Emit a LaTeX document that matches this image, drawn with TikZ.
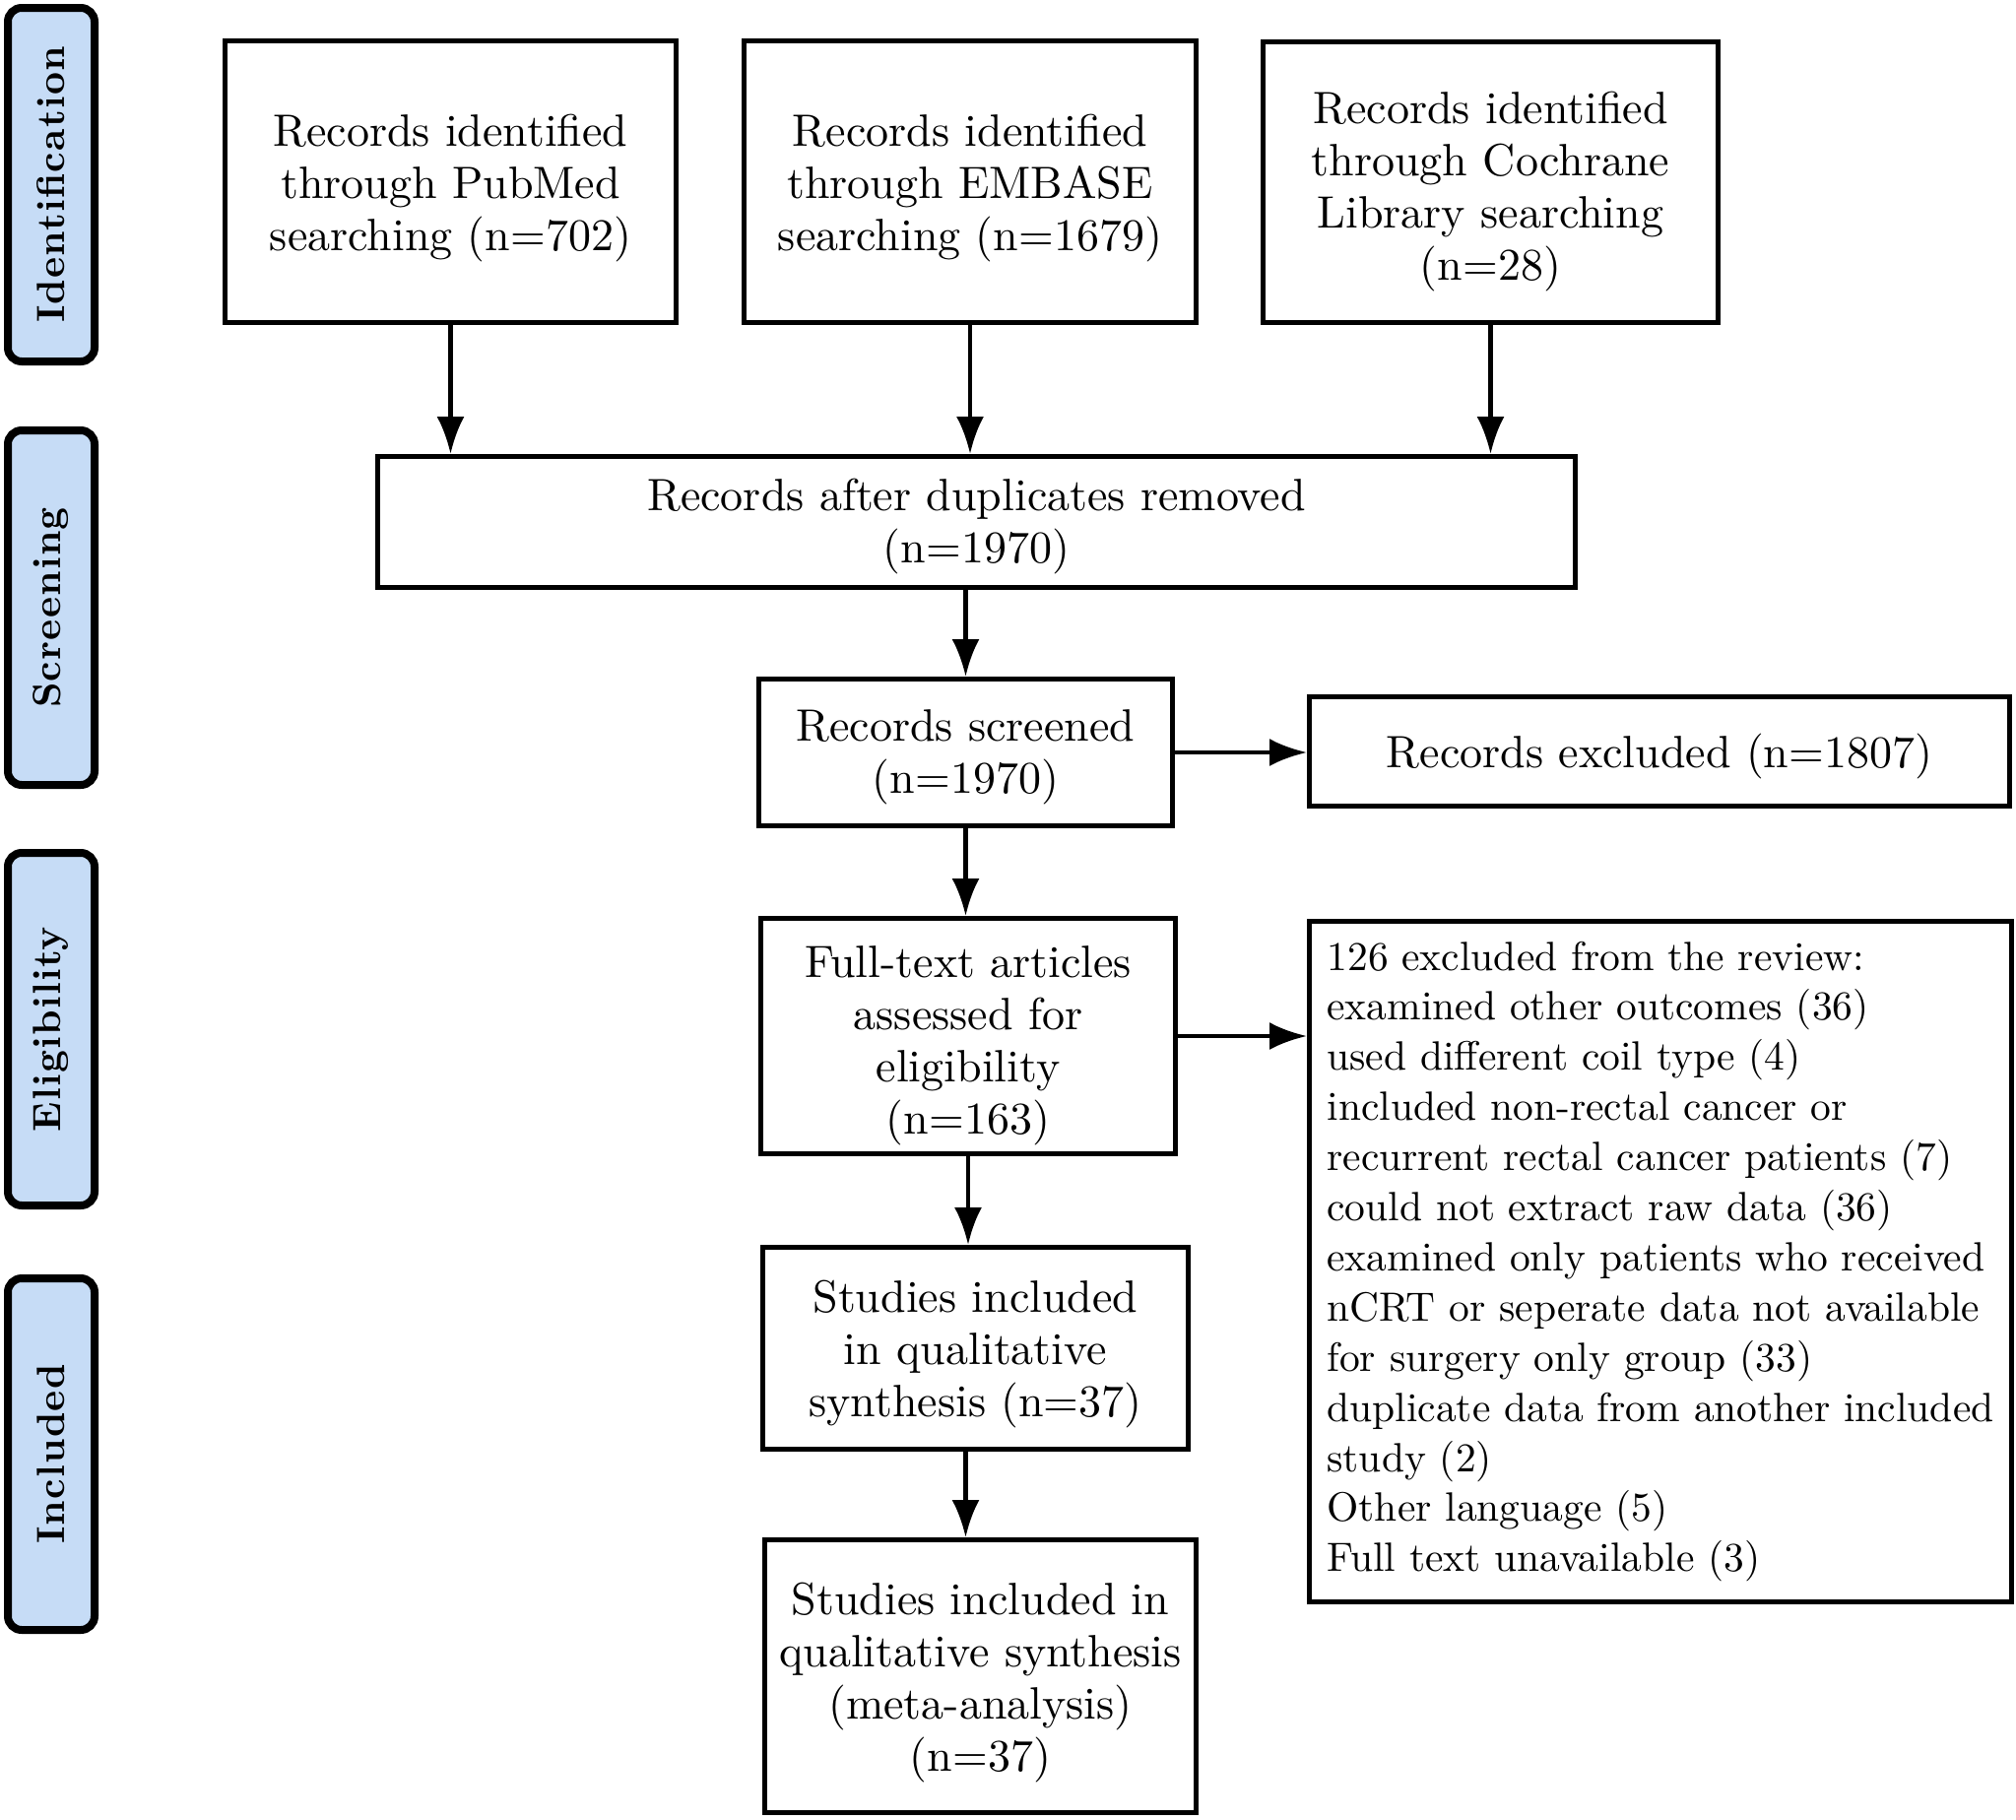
\documentclass[tikz,border=0pt]{standalone}
\usepackage{fontspec}
\setmainfont{lmroman10-regular}[Extension=.otf, BoldFont=lmroman10-bold, ItalicFont=lmroman10-italic, BoldItalicFont=lmroman10-bolditalic]
\usetikzlibrary{arrows.meta}
\definecolor{sidefill}{RGB}{198,220,246}
\newcommand\mystrut[1]{\rule{0pt}{#1}}
\begin{document}
\begin{tikzpicture}[x=1pt,y=-1pt,
  box/.style={draw, line width=5pt, align=center, inner sep=0pt, font=\fontsize{46}{53}\selectfont},
  side/.style={draw, line width=8pt, fill=sidefill, rounded corners=14pt, rotate=90, inner sep=0pt, minimum height=88pt, font=\fontsize{40}{46}\selectfont\bfseries\addfontfeature{LetterSpace=3}},
  arr/.style={line width=4.5pt, -{Latex[length=38pt,width=28pt]}}]
\useasboundingbox (0,0) rectangle (2047,1847);

\node[side, minimum width=359pt] (s1) at (52,187.5) {Identification};
\node[side, minimum width=360pt] (s2) at (52,617) {Screening};
\node[side, minimum width=358pt] (s3) at (52,1045) {Eligibility};
\node[side, minimum width=357pt] (s4) at (52,1476.5) {Included};

\node[box, minimum width=458pt, minimum height=286pt] (pub) at (457.5,184.5) {\mystrut{45pt}Records identified\\through PubMed\\searching (n=702)};
\node[box, minimum width=459pt, minimum height=286pt] (emb) at (985,184.5) {\mystrut{45pt}Records identified\\through EMBASE\\searching (n=1679)};
\node[box, minimum width=462pt, minimum height=285pt] (coc) at (1513.5,185) {\mystrut{52pt}Records identified\\through Cochrane\\Library searching\\(n=28)};
\node[box, minimum width=1216pt, minimum height=133pt] (dup) at (991.5,530) {\mystrut{42pt}Records after duplicates removed\\(n=1970)};
\node[box, minimum width=420pt, minimum height=149pt] (scr) at (980.5,764) {\mystrut{42pt}Records screened\\(n=1970)};
\node[box, minimum width=711pt, minimum height=111pt] (exc) at (1685,763) {\mystrut{45pt}Records excluded (n=1807)};
\node[box, minimum width=421pt, minimum height=239pt] (ft) at (983,1052) {\mystrut{52pt}Full-text articles\\assessed for\\eligibility\\(n=163)};
\node[box, minimum width=713pt, minimum height=691pt, align=left, font=\fontsize{41.5}{50.9}\selectfont] (lst) at (1686,1281) {126 excluded from the review:\\examined other outcomes (36)\\used different coil type (4)\\included non-rectal cancer or\\recurrent rectal cancer patients (7)\\could not extract raw data (36)\\examined only patients who received\\nCRT or seperate data not available\\for surgery only group (33)\\duplicate data from another included\\study (2)\\Other language (5)\\Full text unavailable (3)};
\node[box, minimum width=432pt, minimum height=205pt] (stu) at (990.5,1369) {\mystrut{45pt}Studies included\\in qualitative\\synthesis (n=37)};
\node[box, minimum width=438pt, minimum height=277pt] (meta) at (995.5,1702) {\mystrut{45pt}Studies included in\\qualitative synthesis\\(meta-analysis)\\(n=37)};

\draw[arr] (pub.south) -- (pub.south |- dup.north);
\draw[arr] (emb.south) -- (emb.south |- dup.north);
\draw[arr] (coc.south) -- (coc.south |- dup.north);
\draw[arr] (scr.north |- dup.south) -- (scr.north);
\draw[arr] (scr.east) -- (scr.east -| exc.west);
\draw[arr] (scr.south) -- (scr.south |- ft.north);
\draw[arr] (ft.east) -- (ft.east -| lst.west);
\draw[arr] (ft.south) -- (ft.south |- stu.north);
\draw[arr] (scr.south |- stu.south) -- (scr.south |- meta.north);
\end{tikzpicture}
\end{document}
